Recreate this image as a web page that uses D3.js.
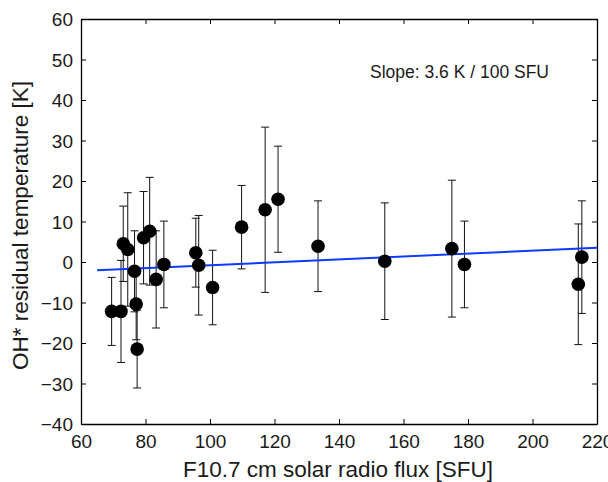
<!DOCTYPE html>
<html>
<head>
<meta charset="utf-8">
<script src="https://cdn.jsdelivr.net/npm/d3@7"></script>
<style>
  body { margin:0; background:#fff; }
  svg text { font-family: "Liberation Sans", Arial, Helvetica, sans-serif; fill:#1a1a1a; }
</style>
</head>
<body>
<svg width="608" height="482"></svg>
<script>
// solar flux (SFU), residual temperature (K) and 1-sigma error (K)
const flux = [69.5, 72.4, 73.1, 74.5, 76.6, 77.1, 77.4, 79.4, 81.3, 83.3, 85.7, 95.6,
              96.5, 100.8, 109.8, 117.1, 121.1, 133.5, 154.2, 175.0, 178.9, 214.2, 215.3];
const temp = [-12.2, -12.2, 4.5, 3.1, -2.3, -10.4, -21.5, 6.0, 7.6, -4.3, -0.6, 2.3,
              -0.8, -6.3, 8.6, 12.9, 15.5, 3.9, 0.2, 3.3, -0.6, -5.5, 1.2];
const err  = [8.4, 12.6, 9.3, 14.0, 10.0, 8.8, 9.6, 11.4, 13.3, 12.0, 10.7, 8.5,
              12.3, 9.2, 10.3, 20.4, 13.1, 11.2, 14.4, 16.9, 10.7, 14.9, 13.9];

// linear fit: K per SFU, intercept, x extent
const fitSlope = 0.036, fitIntercept = -4.4;
const fitRange = [65, 220];

const xTicks = [60, 80, 100, 120, 140, 160, 180, 200, 220];
const yTicks = [-40, -30, -20, -10, 0, 10, 20, 30, 40, 50, 60];

const M = { top:19, right:11, bottom:58, left:81 };
const W = 608, H = 482;

const svg = d3.select('svg');
const x = d3.scaleLinear().domain([60, 220]).range([M.left, W - M.right]);
const y = d3.scaleLinear().domain([-40, 60]).range([H - M.bottom, M.top]);

const data = flux.map((f, i) => ({ f, t: temp[i], e: err[i] }));

// error bars
const eb = svg.append('g').attr('stroke', '#111').attr('stroke-width', 1);
data.forEach(d => {
  eb.append('line').attr('x1', x(d.f)).attr('x2', x(d.f))
    .attr('y1', y(d.t - d.e)).attr('y2', y(d.t + d.e));
  [d.t - d.e, d.t + d.e].forEach(v => {
    eb.append('line').attr('x1', x(d.f) - 4).attr('x2', x(d.f) + 4)
      .attr('y1', y(v)).attr('y2', y(v));
  });
});

// fit line
svg.append('line')
  .attr('x1', x(fitRange[0])).attr('y1', y(fitIntercept + fitSlope * fitRange[0]))
  .attr('x2', x(fitRange[1])).attr('y2', y(fitIntercept + fitSlope * fitRange[1]))
  .attr('stroke', '#0a3cff').attr('stroke-width', 2);

// points
svg.append('g').selectAll('circle')
  .data(data)
  .join('circle')
    .attr('cx', d => x(d.f))
    .attr('cy', d => y(d.t))
    .attr('r', 6.8)
    .attr('fill', '#000');

// axes (ticks inside, box all round)
const fmt = d => d < 0 ? '\u2212' + Math.abs(d) : d;
const gx = svg.append('g').attr('transform', `translate(0,${H - M.bottom})`)
  .call(d3.axisBottom(x).tickValues(xTicks).tickSizeInner(-5).tickSizeOuter(0).tickPadding(10).tickFormat(fmt));
const gxt = svg.append('g').attr('transform', `translate(0,${M.top})`)
  .call(d3.axisTop(x).tickValues(xTicks).tickSizeInner(-5).tickSizeOuter(0).tickFormat(''));
const gy = svg.append('g').attr('transform', `translate(${M.left},0)`)
  .call(d3.axisLeft(y).tickValues(yTicks).tickSizeInner(-5).tickSizeOuter(0).tickPadding(8).tickFormat(fmt));
const gyr = svg.append('g').attr('transform', `translate(${W - M.right},0)`)
  .call(d3.axisRight(y).tickValues(yTicks).tickSizeInner(-5).tickSizeOuter(0).tickFormat(''));

[gx, gxt, gy, gyr].forEach(g => {
  g.select('.domain').attr('stroke', '#000').attr('stroke-width', 1.3);
  g.selectAll('.tick line').attr('stroke', '#000');
});
gx.selectAll('text').style('font-size', '19px').attr('dy', '0.75em');
gy.selectAll('text').style('font-size', '19px').attr('dy', '0.36em');

// labels
svg.append('text')
  .attr('x', (M.left + W - M.right) / 2 - 1).attr('y', 477)
  .attr('text-anchor', 'middle')
  .style('font-size', '22.5px')
  .text('F10.7 cm solar radio flux [SFU]');

svg.append('text')
  .attr('transform', `translate(28,${(M.top + H - M.bottom) / 2 + 4}) rotate(-90)`)
  .attr('text-anchor', 'middle')
  .style('font-size', '22.5px')
  .text('OH* residual temperature [K]');

svg.append('text')
  .attr('x', 370).attr('y', 78)
  .style('font-size', '17.5px')
  .text('Slope: 3.6 K / 100 SFU');
</script>
</body>
</html>
